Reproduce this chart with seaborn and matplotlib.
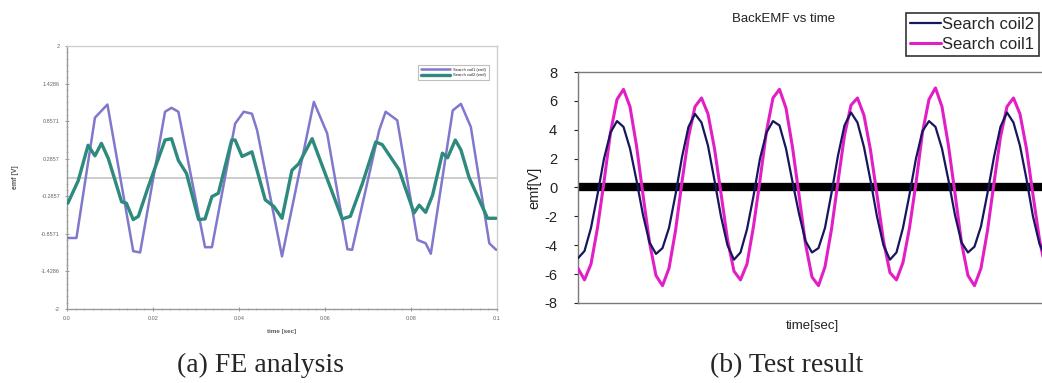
import matplotlib

matplotlib.use("Agg")

import matplotlib.pyplot as plt
import numpy as np
import pandas as pd
import seaborn as sns
from matplotlib.ticker import AutoMinorLocator, FixedLocator

# ---- (a) FE analysis: points ----
fe_t1 = [0.0002, 0.0022, 0.0065, 0.0094, 0.0154, 0.0170, 0.0228, 0.0243, 0.0259,
         0.0321, 0.0337, 0.0391, 0.0411, 0.0430, 0.0442, 0.0500, 0.0574, 0.0605,
         0.0652, 0.0663, 0.0726, 0.0741, 0.0768, 0.0815, 0.0834, 0.0846, 0.0897,
         0.0916, 0.0939, 0.0982, 0.0998]
fe_coil1 = [-0.92, -0.92, 0.91, 1.11, -1.12, -1.14, 1.00, 1.06, 1.00,
            -1.06, -1.06, 0.82, 1.00, 0.97, 0.72, -1.20, 1.15, 0.67,
            -1.09, -1.10, 0.72, 1.00, 0.87, -0.95, -1.00, -1.16, 1.02,
            1.12, 0.77, -1.00, -1.10]

fe_t2 = [0.0002, 0.0026, 0.0049, 0.0065, 0.0080, 0.0096, 0.0127, 0.0138, 0.0154,
         0.0166, 0.0189, 0.0228, 0.0243, 0.0259, 0.0278, 0.0306, 0.0321, 0.0337,
         0.0352, 0.0383, 0.0391, 0.0407, 0.0430, 0.0461, 0.0481, 0.0500, 0.0523,
         0.0539, 0.0570, 0.0586, 0.0640, 0.0659, 0.0687, 0.0718, 0.0733, 0.0772,
         0.0807, 0.0819, 0.0834, 0.0850, 0.0873, 0.0885, 0.0903, 0.0916, 0.0935,
         0.0978, 0.0998]
fe_coil2 = [-0.39, -0.05, 0.49, 0.33, 0.52, 0.29, -0.37, -0.39, -0.64,
            -0.59, -0.14, 0.57, 0.59, 0.26, 0.06, -0.64, -0.63, -0.29,
            -0.24, 0.57, 0.57, 0.32, 0.39, -0.34, -0.44, -0.62, 0.11,
            0.21, 0.59, 0.31, -0.63, -0.59, -0.09, 0.54, 0.50, 0.12,
            -0.54, -0.42, -0.53, -0.27, 0.37, 0.30, 0.57, 0.42, 0.00,
            -0.62, -0.62]

fe_yticks = [-2, -1.4286, -0.8571, -0.2857, 0.2857, 0.8571, 1.4286, 2]
fe_ylabels = ["-2", "-1.4286", "-0.8571", "-0.2857", "0.2857", "0.8571", "1.4286", "2"]
fe_xticks = [0, 0.02, 0.04, 0.06, 0.08, 0.1]
fe_xlabels = ["0.0", "0.02", "0.04", "0.06", "0.08", "0.1"]

# ---- (b) Test result: samples every 1/720 s over 0.1 s ----
test_coil1 = [-5.6,
              -6.4, -5.3, -2.8, 0.4, 3.8, 6.1, 6.8, 5.6, 2.9, -0.5, -3.8, -6.1,
              -6.8, -5.6, -3.0, 0.4, 3.5, 5.6, 6.2, 5.1, 2.7, -0.4, -3.6, -5.8,
              -6.4, -5.3, -2.7, 0.5, 3.9, 6.2, 6.8, 5.5, 2.8, -0.5, -3.9, -6.2,
              -6.8, -5.5, -2.9, 0.4, 3.6, 5.7, 6.2, 5.0, 2.6, -0.5, -3.7, -5.9,
              -6.4, -5.2, -2.8, 0.3, 3.8, 6.1, 6.9, 5.6, 2.9, -0.4, -3.8, -6.1,
              -6.8, -5.6, -3.0, 0.3, 3.5, 5.6, 6.2, 5.1, 2.7, -0.5, -3.6, -5.8]
test_coil2 = [-4.9,
              -4.4, -2.8, -0.5, 2.0, 3.8, 4.6, 4.2, 2.7, 0.5, -1.9, -3.8, -4.6,
              -4.2, -2.8, -0.5, 2.1, 4.2, 5.1, 4.5, 2.9, 0.5, -2.0, -4.0, -5.0,
              -4.5, -2.9, -0.6, 2.0, 3.8, 4.6, 4.3, 2.7, 0.4, -1.8, -3.7, -4.5,
              -4.2, -2.8, -0.4, 2.2, 4.3, 5.2, 4.5, 2.8, 0.5, -2.0, -4.0, -5.0,
              -4.5, -2.8, -0.5, 2.0, 3.9, 4.6, 4.2, 2.7, 0.5, -1.9, -3.8, -4.5,
              -4.1, -2.7, -0.4, 2.1, 4.2, 5.2, 4.5, 2.9, 0.6, -2.0, -3.9, -4.9]
test_t = np.linspace(0, 0.1, len(test_coil1))
test_yticks = [-8, -6, -4, -2, 0, 2, 4, 6, 8]

sns.set_theme(style="white")
plt.rcParams["font.family"] = ["Liberation Sans", "DejaVu Sans"]
plt.rcParams["axes.unicode_minus"] = False

fig = plt.figure(figsize=(10.42, 3.83), dpi=100)

# ---------------- left panel ----------------
ax1 = fig.add_axes([0.0643, 0.1932, 0.4127, 0.6867])
fe1 = pd.DataFrame({"t": fe_t1, "emf": fe_coil1})
fe2 = pd.DataFrame({"t": fe_t2, "emf": fe_coil2})
ax1.axhline(0, color="#c4c4c4", lw=1.2, zorder=1)
sns.lineplot(data=fe1, x="t", y="emf", ax=ax1, color="#7f78cc", lw=1.8,
             label="Search coil1 (emf)", zorder=3)
sns.lineplot(data=fe2, x="t", y="emf", ax=ax1, color="#2e8a7c", lw=2.4,
             label="Search coil2 (emf)", zorder=4)
ax1.set_xlim(0, 0.1)
ax1.set_ylim(-2, 2)
ax1.yaxis.set_major_locator(FixedLocator(fe_yticks))
ax1.set_yticklabels(fe_ylabels)
ax1.xaxis.set_major_locator(FixedLocator(fe_xticks))
ax1.set_xticklabels(fe_xlabels)
ax1.xaxis.set_minor_locator(AutoMinorLocator(10))
ax1.yaxis.set_minor_locator(AutoMinorLocator(6))
ax1.tick_params(axis="both", which="major", labelsize=4, colors="#888888",
                labelcolor="#666666", length=3, width=0.6, direction="inout")
ax1.tick_params(axis="both", which="minor", colors="#aaaaaa", length=2,
                width=0.5, direction="inout")
ax1.tick_params(axis="both", which="both", bottom=True, left=True)
for sp in ax1.spines.values():
    sp.set_color("#cfcfcf")
    sp.set_linewidth(1.0)
ax1.spines["left"].set_color("#9a9a9a")
ax1.spines["bottom"].set_color("#9a9a9a")
ax1.set_xlabel("time [sec]", fontsize=4.5, color="#555555", fontweight="bold",
               labelpad=6)
ax1.set_ylabel("emf [V]", fontsize=5, color="#555555", fontweight="bold",
               labelpad=16)
leg1 = ax1.legend(loc="upper right", bbox_to_anchor=(0.985, 0.935), fontsize=3,
                  frameon=True, fancybox=False, handlelength=7, borderpad=0.6,
                  labelspacing=0.4)
leg1.get_frame().set_edgecolor("#b0b0b0")
leg1.get_frame().set_linewidth(0.8)

# ---------------- right panel ----------------
ax2 = fig.add_axes([0.5547, 0.2089, 0.4491, 0.6031])
test = pd.DataFrame({"t": test_t, "Search coil2": test_coil2,
                     "Search coil1": test_coil1})
ax2.axhline(0, color="black", lw=6, zorder=1)
sns.lineplot(data=test, x="t", y="Search coil2", ax=ax2, color="#16165e",
             lw=1.6, label="Search coil2", zorder=4)
sns.lineplot(data=test, x="t", y="Search coil1", ax=ax2, color="#e21fc4",
             lw=2.2, label="Search coil1", zorder=3)
ax2.set_xlim(0, 0.1)
ax2.set_ylim(-8, 8)
ax2.set_yticks(test_yticks)
ax2.set_xticks([])
ax2.tick_params(axis="y", labelsize=10.5, colors="#222222", length=3,
                width=0.8, left=True, pad=12)
for sp in ax2.spines.values():
    sp.set_color("#7a7a7a")
    sp.set_linewidth(1.0)
ax2.set_xlabel("time[sec]", fontsize=9.5, color="#222222", labelpad=12)
ax2.set_ylabel("emf[V]", fontsize=10.5, color="#222222", labelpad=2)
ax2.set_title("BackEMF vs time", fontsize=9.5, color="#222222", pad=36,
              x=0.44)
leg2 = ax2.legend(loc="upper left", bbox_to_anchor=(0.70, 1.255), fontsize=12,
                  frameon=True, fancybox=False, handlelength=1.9,
                  handletextpad=0.05, borderpad=0.25, labelspacing=0.3,
                  borderaxespad=0)
leg2.get_frame().set_edgecolor("black")
leg2.get_frame().set_linewidth(1.2)

# captions
fig.text(0.25, 0.045, "(a) FE analysis", ha="center", va="center",
         fontsize=20, family=["Liberation Serif", "DejaVu Serif"])
fig.text(0.755, 0.045, "(b) Test result", ha="center", va="center",
         fontsize=20, family=["Liberation Serif", "DejaVu Serif"])

fig.savefig("out.png", dpi=100)
plt.close(fig)
